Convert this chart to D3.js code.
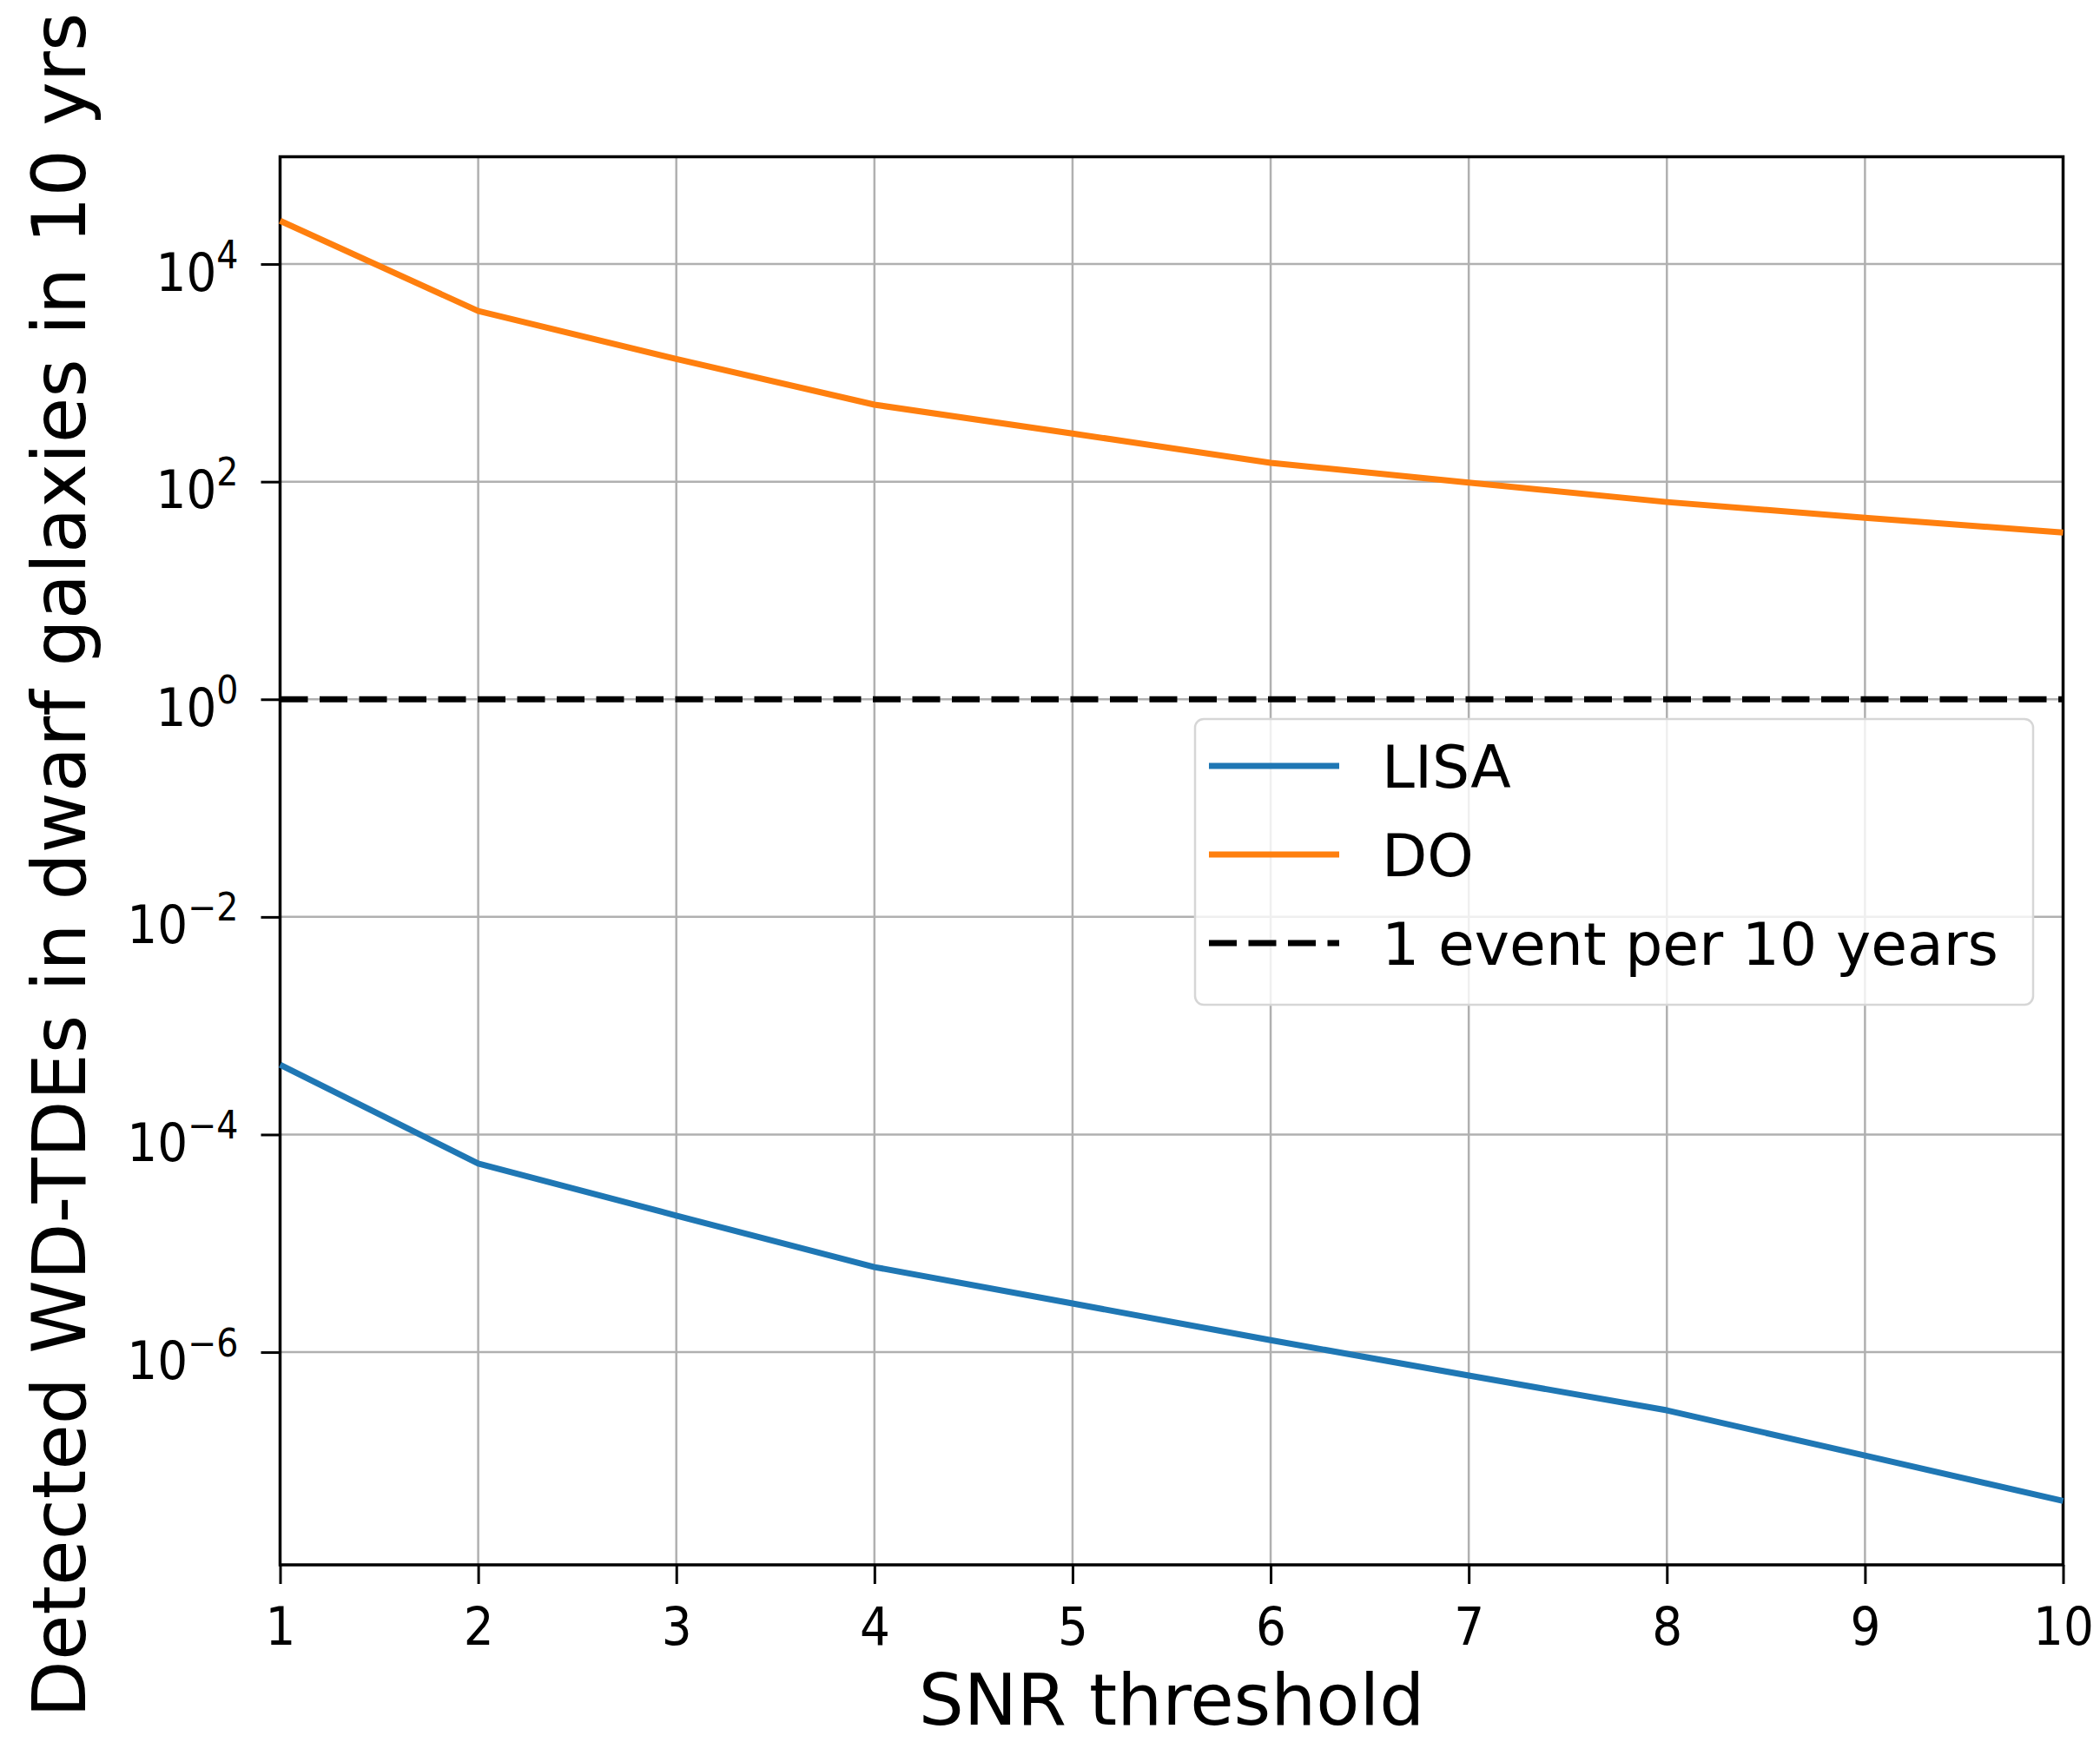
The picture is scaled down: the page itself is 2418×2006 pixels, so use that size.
<!DOCTYPE html>
<html>
<head>
<meta charset="utf-8">
<script src="https://cdn.jsdelivr.net/npm/d3@7"></script>
<style>
    html, body { margin: 0; padding: 0; background: #fff; }
    svg { display: block; font-family: "DejaVu Sans", sans-serif; }
</style>
</head>
<body>
<div id="div-chart"></div>
<script>

// values
var snrThreshold = [1, 2, 3, 4, 5, 6, 7, 8, 9, 10];
var lisaDetected = [4.37e-4, 5.42e-5, 1.8e-5, 6.05e-6, 2.8e-6, 1.29e-6, 6.1e-7, 2.92e-7, 1.12e-7, 4.3e-8];
var doDetected = [2.5e4, 3.7e3, 1.34e3, 5.1e2, 2.77e2, 1.49e2, 9.8e1, 6.5e1, 4.66e1, 3.41e1];
var eventLevel = 1;

var xTicks = [1, 2, 3, 4, 5, 6, 7, 8, 9, 10];
var yTickExponents = [-6, -4, -2, 0, 2, 4];

var legendLabels = ["LISA", "DO", "1 event per 10 years"];

function DetectionChart() {

    var dc = this;

    dc.createSVG = createSVG;
    dc.createAxes = createAxes;
    dc.createLines = createLines;
    dc.createLegend = createLegend;

    /////////////////////////////////////

    function createSVG(selector, config) {
        dc.config = config;
        dc.svg = d3.select(selector)
            .append("svg")
                .attr("width", config.width)
                .attr("height", config.height);

        var m = config.margin;
        dc.innerWidth = config.width - m.left - m.right;
        dc.innerHeight = config.height - m.top - m.bottom;

        dc.x = d3.scaleLinear()
            .domain(d3.extent(snrThreshold))
            .range([0, dc.innerWidth]);

        // log axis padded by 5% of the decades on both ends, like matplotlib
        var all = lisaDetected.concat(doDetected);
        var lo = Math.log10(d3.min(all)), hi = Math.log10(d3.max(all));
        var pad = 0.05 * (hi - lo);
        dc.y = d3.scaleLog()
            .domain([Math.pow(10, lo - pad), Math.pow(10, hi + pad)])
            .range([dc.innerHeight, 0]);

        dc.g = dc.svg.append("g")
            .attr("transform", "translate(" + m.left + "," + m.top + ")");
    }

    function createAxes() {
        var cfg = dc.config;
        var font = "DejaVu Sans, sans-serif";
        var sx = cfg.tickSquash;
        var yTicks = yTickExponents.map(function(e) { return Math.pow(10, e); });

        // grid
        var grid = dc.g.append("g").attr("class", "grid");
        grid.selectAll("line.gx")
            .data(xTicks)
            .enter().append("line")
                .attr("x1", function(d) { return dc.x(d); })
                .attr("x2", function(d) { return dc.x(d); })
                .attr("y1", 0).attr("y2", dc.innerHeight);
        grid.selectAll("line.gy")
            .data(yTicks)
            .enter().append("line")
                .attr("y1", function(d) { return dc.y(d); })
                .attr("y2", function(d) { return dc.y(d); })
                .attr("x1", 0).attr("x2", dc.innerWidth);
        grid.selectAll("line")
            .style("stroke", "#b0b0b0")
            .style("stroke-width", cfg.gridWidth);

        // x axis
        var xAxis = d3.axisBottom(dc.x)
            .tickValues(xTicks)
            .tickFormat(d3.format("d"))
            .tickSize(cfg.tickLength)
            .tickSizeOuter(0);
        var gx = dc.g.append("g")
            .attr("transform", "translate(0," + dc.innerHeight + ")")
            .call(xAxis)
            .attr("font-family", font);
        gx.select(".domain").remove();
        gx.selectAll(".tick line").style("stroke", "#000").style("stroke-width", cfg.tickWidth);
        gx.selectAll(".tick text")
            .attr("y", 92).attr("dy", 0)
            .attr("transform", "scale(" + sx + ",1)")
            .style("font-size", cfg.tickFont + "px")
            .style("fill", "#000");

        // y axis, labels as 10^n
        var yAxis = d3.axisLeft(dc.y)
            .tickValues(yTicks)
            .tickFormat(function() { return ""; })
            .tickSize(cfg.tickLength)
            .tickSizeOuter(0);
        var gy = dc.g.append("g").call(yAxis)
            .attr("font-family", font);
        gy.select(".domain").remove();
        gy.selectAll(".tick line").style("stroke", "#000").style("stroke-width", cfg.tickWidth);
        gy.selectAll(".tick text")
            .attr("x", (-cfg.tickLength - 26) / sx)
            .attr("dy", 30)
            .attr("transform", "scale(" + sx + ",1)")
            .style("font-size", cfg.tickFont + "px")
            .style("fill", "#000")
            .each(function(d) {
                var t = d3.select(this);
                var e = Math.round(Math.log10(d));
                t.append("tspan").text("10");
                t.append("tspan")
                    .attr("dy", -26)
                    .style("font-size", cfg.supFont + "px")
                    .text(String(e).replace("-", "\u2212"));
            });

        // frame
        dc.g.append("rect")
            .attr("x", 0).attr("y", 0)
            .attr("width", dc.innerWidth).attr("height", dc.innerHeight)
            .style("fill", "none")
            .style("stroke", "#000")
            .style("stroke-width", cfg.spineWidth);

        // axis titles
        dc.svg.append("text")
            .attr("x", cfg.margin.left + dc.innerWidth / 2)
            .attr("y", 1986)
            .attr("text-anchor", "middle")
            .style("font-size", cfg.xLabelFont + "px")
            .text("SNR threshold");

        dc.svg.append("text")
            .attr("transform", "translate(98," + (cfg.margin.top + dc.innerHeight / 2 + 5) + ") rotate(-90)")
            .attr("text-anchor", "middle")
            .style("font-size", cfg.yLabelFont + "px")
            .text("Detected WD-TDEs in dwarf galaxies in 10 yrs");
    }

    function createLines() {
        var cfg = dc.config;
        var line = d3.line()
            .x(function(d) { return dc.x(d[0]); })
            .y(function(d) { return dc.y(d[1]); });

        var plot = dc.g.append("g");

        plot.append("path")
            .datum(d3.zip(snrThreshold, lisaDetected))
            .attr("d", line)
            .style("fill", "none")
            .style("stroke", cfg.colors[0])
            .style("stroke-width", cfg.lineWidth)
            .style("stroke-linejoin", "round");

        plot.append("path")
            .datum(d3.zip(snrThreshold, doDetected))
            .attr("d", line)
            .style("fill", "none")
            .style("stroke", cfg.colors[1])
            .style("stroke-width", cfg.lineWidth)
            .style("stroke-linejoin", "round");

        plot.append("line")
            .attr("x1", 0).attr("x2", dc.innerWidth)
            .attr("y1", dc.y(eventLevel)).attr("y2", dc.y(eventLevel))
            .style("stroke", "#000")
            .style("stroke-width", cfg.dashWidth)
            .style("stroke-dasharray", cfg.dash);
    }

    function createLegend() {
        var cfg = dc.config;
        var lg = dc.svg.append("g").attr("transform", "translate(1376,828)");

        lg.append("rect")
            .attr("width", 965).attr("height", 329)
            .attr("rx", 10).attr("ry", 10)
            .style("fill", "#fff").style("fill-opacity", 0.8)
            .style("stroke", "#d6d6d6").style("stroke-width", 2.5);

        var rows = lg.selectAll("g.row")
            .data(legendLabels)
            .enter().append("g")
                .attr("transform", function(d, i) { return "translate(0," + (54 + i * 102) + ")"; });

        rows.append("line")
            .attr("x1", 16).attr("x2", 166)
            .style("stroke", function(d, i) { return i < 2 ? cfg.colors[i] : "#000"; })
            .style("stroke-width", function(d, i) { return i < 2 ? cfg.lineWidth : cfg.dashWidth; })
            .style("stroke-dasharray", function(d, i) { return i < 2 ? null : cfg.dash; });

        rows.append("text")
            .attr("x", 215).attr("y", 25)
            .style("font-size", cfg.legendFont + "px")
            .text(function(d) { return d; });
    }
}

(function() {
    var dc = new DetectionChart();
    var config = {
        width: 2418,
        height: 2006,
        margin: { top: 180.5, right: 42.5, bottom: 204, left: 322.5 },
        colors: ["#1f77b4", "#ff7f0e"],
        lineWidth: 7,
        dashWidth: 7,
        dash: "32,13.5",
        gridWidth: 2.5,
        spineWidth: 3.5,
        tickWidth: 3,
        tickLength: 22,
        tickFont: 61,
        supFont: 44,
        tickSquash: 0.9,
        xLabelFont: 82,
        yLabelFont: 85.5,
        legendFont: 68
    };
    dc.createSVG("#div-chart", config);
    dc.createAxes();
    dc.createLines();
    dc.createLegend();
})();
</script>
</body>
</html>
